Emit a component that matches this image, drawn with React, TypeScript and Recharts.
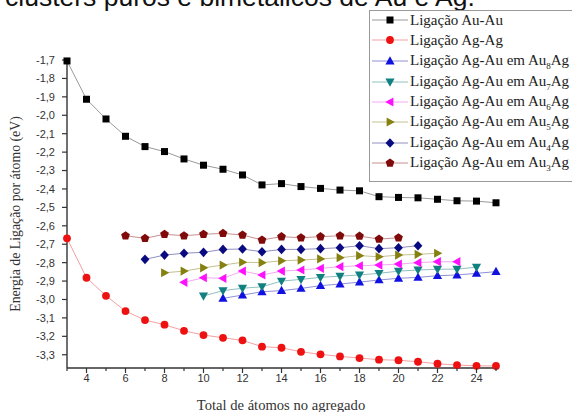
import React from "react";
import { LineChart, Line, XAxis, YAxis } from "recharts";

// atom counts (x) for each series
const atomsAuAu = [3, 4, 5, 6, 7, 8, 9, 10, 11, 12, 13, 14, 15, 16, 17, 18, 19, 20, 21, 22, 23, 24, 25];
const atomsAgAg = [3, 4, 5, 6, 7, 8, 9, 10, 11, 12, 13, 14, 15, 16, 17, 18, 19, 20, 21, 22, 23, 24, 25];
const atomsAu8Ag = [11, 12, 13, 14, 15, 16, 17, 18, 19, 20, 21, 22, 23, 24, 25];
const atomsAu7Ag = [10, 11, 12, 13, 14, 15, 16, 17, 18, 19, 20, 21, 22, 23, 24];
const atomsAu6Ag = [9, 10, 11, 12, 13, 14, 15, 16, 17, 18, 19, 20, 21, 22, 23];
const atomsAu5Ag = [8, 9, 10, 11, 12, 13, 14, 15, 16, 17, 18, 19, 20, 21, 22];
const atomsAu4Ag = [7, 8, 9, 10, 11, 12, 13, 14, 15, 16, 17, 18, 19, 20, 21];
const atomsAu3Ag = [6, 7, 8, 9, 10, 11, 12, 13, 14, 15, 16, 17, 18, 19, 20];

// binding energy per atom (eV)
const energyAuAu = [-1.705, -1.913, -2.02, -2.114, -2.17, -2.197, -2.237, -2.271, -2.293, -2.324, -2.378, -2.371, -2.387, -2.397, -2.406, -2.41, -2.442, -2.446, -2.448, -2.456, -2.464, -2.466, -2.475];
const energyAgAg = [-2.668, -2.882, -2.98, -3.063, -3.112, -3.137, -3.17, -3.193, -3.208, -3.222, -3.256, -3.262, -3.284, -3.298, -3.309, -3.318, -3.327, -3.33, -3.338, -3.349, -3.356, -3.36, -3.361];
const energyAu8Ag = [-2.994, -2.976, -2.958, -2.952, -2.94, -2.925, -2.916, -2.906, -2.894, -2.885, -2.88, -2.871, -2.867, -2.858, -2.849];
const energyAu7Ag = [-2.981, -2.952, -2.939, -2.931, -2.9, -2.891, -2.88, -2.873, -2.867, -2.858, -2.846, -2.84, -2.836, -2.835, -2.825];
const energyAu6Ag = [-2.907, -2.882, -2.885, -2.846, -2.867, -2.846, -2.84, -2.831, -2.822, -2.817, -2.813, -2.808, -2.8, -2.795, -2.795];
const energyAu5Ag = [-2.855, -2.846, -2.828, -2.813, -2.798, -2.8, -2.79, -2.786, -2.78, -2.773, -2.762, -2.768, -2.759, -2.755, -2.749];
const energyAu4Ag = [-2.782, -2.759, -2.749, -2.744, -2.728, -2.726, -2.741, -2.728, -2.728, -2.724, -2.719, -2.708, -2.724, -2.719, -2.708];
const energyAu3Ag = [-2.654, -2.668, -2.646, -2.654, -2.646, -2.641, -2.65, -2.677, -2.659, -2.665, -2.659, -2.654, -2.656, -2.672, -2.665];

const yTicks = [-1.7, -1.8, -1.9, -2.0, -2.1, -2.2, -2.3, -2.4, -2.5, -2.6, -2.7, -2.8, -2.9, -3.0, -3.1, -3.2, -3.3];
const xTicks = [3, 4, 5, 6, 7, 8, 9, 10, 11, 12, 13, 14, 15, 16, 17, 18, 19, 20, 21, 22, 23, 24, 25];

const toPoints = (xs: number[], ys: number[]) => xs.map((x, i) => ({ x, y: ys[i] }));

const series = [
  { name: "Ligação Au-Au", sub: "", data: toPoints(atomsAuAu, energyAuAu), color: "#000000", line: "#9a9a9a", shape: "square" },
  { name: "Ligação Ag-Ag", sub: "", data: toPoints(atomsAgAg, energyAgAg), color: "#ee1111", line: "#f3a0a0", shape: "circle" },
  { name: "Ligação Ag-Au em Au", sub: "8", data: toPoints(atomsAu8Ag, energyAu8Ag), color: "#1010e0", line: "#9090d8", shape: "up" },
  { name: "Ligação Ag-Au em Au", sub: "7", data: toPoints(atomsAu7Ag, energyAu7Ag), color: "#108080", line: "#90c0c0", shape: "down" },
  { name: "Ligação Ag-Au em Au", sub: "6", data: toPoints(atomsAu6Ag, energyAu6Ag), color: "#ff10ff", line: "#f4a8f4", shape: "left" },
  { name: "Ligação Ag-Au em Au", sub: "5", data: toPoints(atomsAu5Ag, energyAu5Ag), color: "#868010", line: "#c4c090", shape: "right" },
  { name: "Ligação Ag-Au em Au", sub: "4", data: toPoints(atomsAu4Ag, energyAu4Ag), color: "#0a0a80", line: "#9090c0", shape: "diamond" },
  { name: "Ligação Ag-Au em Au", sub: "3", data: toPoints(atomsAu3Ag, energyAu3Ag), color: "#800a0a", line: "#c89090", shape: "pentagon" },
];

// legend row centres (px from top of page)
const legendRows = [20, 39.5, 61, 81.5, 102, 122, 142.5, 163];

const Marker = ({ shape, cx, cy, fill }: any) => {
  if (cx == null || cy == null) return null;
  switch (shape) {
    case "square":
      return <rect x={cx - 3.5} y={cy - 3.5} width={7} height={7} fill={fill} />;
    case "circle":
      return <circle cx={cx} cy={cy} r={3.9} fill={fill} />;
    case "up":
      return <polygon points={`${cx},${cy - 4.8} ${cx + 4.6},${cy + 3.4} ${cx - 4.6},${cy + 3.4}`} fill={fill} />;
    case "down":
      return <polygon points={`${cx},${cy + 4.8} ${cx + 4.6},${cy - 3.4} ${cx - 4.6},${cy - 3.4}`} fill={fill} />;
    case "left":
      return <polygon points={`${cx - 4.8},${cy} ${cx + 3.4},${cy - 4.6} ${cx + 3.4},${cy + 4.6}`} fill={fill} />;
    case "right":
      return <polygon points={`${cx + 4.8},${cy} ${cx - 3.4},${cy - 4.6} ${cx - 3.4},${cy + 4.6}`} fill={fill} />;
    case "diamond":
      return <polygon points={`${cx},${cy - 4.8} ${cx + 4.4},${cy} ${cx},${cy + 4.8} ${cx - 4.4},${cy}`} fill={fill} />;
    default: {
      const pts = [0, 1, 2, 3, 4]
        .map((k) => {
          const a = -Math.PI / 2 + (k * 2 * Math.PI) / 5;
          return `${cx + 4.6 * Math.cos(a)},${cy + 4.6 * Math.sin(a)}`;
        })
        .join(" ");
      return <polygon points={pts} fill={fill} />;
    }
  }
};

const XTick = ({ x, y, payload }: any) => {
  const v = payload.value;
  const major = v % 2 === 0;
  return (
    <g>
      <line x1={x} x2={x} y1={y} y2={y + (major ? 5 : 3)} stroke="#333" strokeWidth={1.2} />
      {major && (
        <text x={x} y={y + 14} textAnchor="middle" fontSize={11} fill="#333" fontFamily="Liberation Sans, Arial, sans-serif">
          {v}
        </text>
      )}
    </g>
  );
};

const YTitle = () => (
  <text
    x={15}
    y={214}
    transform="rotate(-90, 15, 214)"
    textAnchor="middle"
    dominantBaseline="central"
    fontSize={13.8}
    fill="#333"
    fontFamily="Liberation Serif, Times New Roman, serif"
  >
    Energia de Ligação por átomo (eV)
  </text>
);

const XTitle = () => (
  <text x={281} y={410} textAnchor="middle" fontSize={14.6} fill="#333" fontFamily="Liberation Serif, Times New Roman, serif">
    Total de átomos no agregado
  </text>
);

export default function App() {
  return (
    <div style={{ position: "absolute", left: 0, top: 0, width: 572, height: 412, overflow: "hidden", background: "#fff" }}>
      <svg width={572} height={20} style={{ position: "absolute", left: 0, top: 0 }}>
        <text x={5} y={6} fontSize={26.5} fill="#111" fontFamily="Liberation Sans, Arial, sans-serif">
          clusters puros e bimetálicos de Au e Ag.
        </text>
      </svg>

      <LineChart width={572} height={412} margin={{ top: 58, right: 76, bottom: 14, left: 17 }}>
        <XAxis
          dataKey="x"
          type="number"
          domain={[3, 25]}
          ticks={xTicks}
          interval={0}
          height={30}
          tickSize={0}
          tickMargin={0}
          tick={<XTick />}
          tickLine={false}
          axisLine={{ stroke: "#333", strokeWidth: 1.4 }}
          label={<XTitle />}
        />
        <YAxis
          type="number"
          domain={[-3.372, -1.689]}
          ticks={yTicks}
          interval={0}
          width={50}
          tickSize={5}
          tickMargin={7}
          tickLine={{ stroke: "#333", strokeWidth: 1.2 }}
          axisLine={{ stroke: "#333", strokeWidth: 1.4 }}
          tick={{ fontSize: 11, fill: "#333", fontFamily: "Liberation Sans, Arial, sans-serif" }}
          tickFormatter={(v: number) => v.toFixed(1).replace(".", ",")}
          label={<YTitle />}
        />
        {series.map((s, si) => (
          <Line
            key={si}
            data={s.data}
            dataKey="y"
            name={s.name + s.sub}
            type="linear"
            stroke={s.line}
            strokeWidth={1}
            isAnimationActive={false}
            activeDot={false}
            dot={(p: any) => <Marker key={`m-${si}-${p.index}`} shape={s.shape} cx={p.cx} cy={p.cy} fill={s.color} />}
          />
        ))}
      </LineChart>

      <div
        style={{
          position: "absolute",
          left: 369,
          top: 10,
          width: 230,
          height: 170,
          border: "1px solid #999",
          background: "#fff",
        }}
      />
      {series.map((s, i) => (
        <div
          key={i}
          style={{
            position: "absolute",
            left: 372,
            top: legendRows[i] - 10,
            height: 20,
            display: "flex",
            alignItems: "center",
            whiteSpace: "nowrap",
            fontFamily: "Liberation Serif, Times New Roman, serif",
            fontSize: 15,
            color: "#222",
          }}
        >
          <svg width={36} height={20} style={{ display: "block" }}>
            <line x1={0} x2={36} y1={10} y2={10} stroke={s.line} strokeWidth={1} />
            <Marker shape={s.shape} cx={18} cy={10} fill={s.color} />
          </svg>
          <span style={{ marginLeft: 2, lineHeight: "20px" }}>
            {s.name}
            {s.sub && (
              <span style={{ fontSize: 9, position: "relative", top: 4 }}>{s.sub}</span>
            )}
            {s.sub && "Ag"}
          </span>
        </div>
      ))}
    </div>
  );
}
